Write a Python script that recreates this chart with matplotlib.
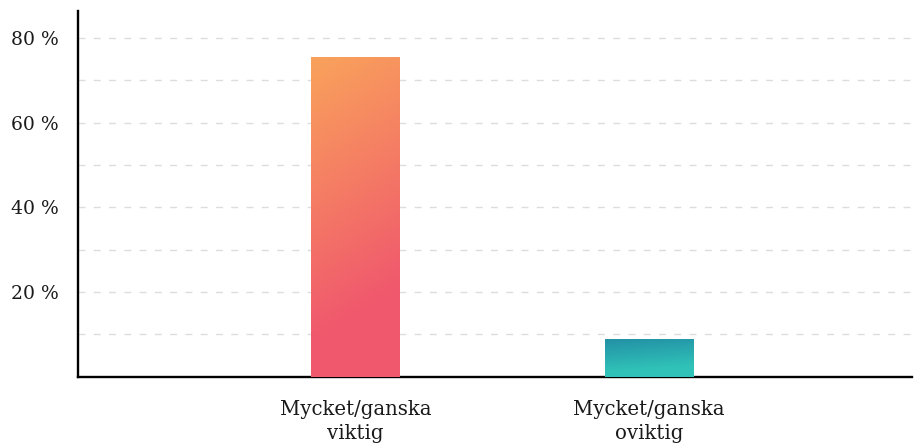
import numpy as np
import matplotlib
matplotlib.use("Agg")
import matplotlib.pyplot as plt
from matplotlib.colors import to_rgb
from matplotlib.ticker import MultipleLocator, FuncFormatter

categories = ["Mycket/ganska\nviktig", "Mycket/ganska\noviktig"]
values = [75.6, 8.9]
yticks = [20, 40, 60, 80]
grad_top = ["#F99F5C", "#2393A6"]
grad_bottom = ["#F0596D", "#30C2B8"]

plt.rcParams['font.family'] = ['DejaVu Serif']

fig = plt.figure(figsize=(9.14, 4.48), dpi=100)
ax = fig.add_axes([78/914, 1 - 376.6/448, (912 - 78)/914, (376.6 - 11)/448])

x = np.arange(len(categories))
width = 0.303
bars = ax.bar(x, values, width, color='none', zorder=3)

for i, b in enumerate(bars):
    ny, nx = 200, 60
    u = np.linspace(0, 1, nx)[None, :]
    v = np.linspace(0, 1, ny)[:, None]  # 0 at top, 1 at bottom
    t = np.clip(1.2 * v + 0.2 * u - 0.05, 0, 1)
    c0 = np.array(to_rgb(grad_top[i]))
    c1 = np.array(to_rgb(grad_bottom[i]))
    img = c0[None, None, :] * (1 - t[..., None]) + c1[None, None, :] * t[..., None]
    im = ax.imshow(img, extent=(b.get_x(), b.get_x() + b.get_width(), 0, b.get_height()),
                   aspect='auto', origin='upper', zorder=3, interpolation='bilinear')
    im.set_clip_path(b)

ax.set_xlim(-0.9455, 1.896)
ax.set_ylim(0, 86.4)

ax.set_yticks(yticks)
ax.yaxis.set_minor_locator(MultipleLocator(10))
ax.yaxis.set_major_formatter(FuncFormatter(lambda v, p: f"{int(v)} %"))
ax.grid(axis='y', which='both', color='#dddddd', linestyle=(0, (5, 6)), linewidth=1.0, zorder=0)
ax.set_axisbelow(True)

ax.set_xticks(x)
ax.set_xticklabels(categories, fontsize=14.2, color='#1a1a1a', linespacing=1.3)
ax.tick_params(axis='x', length=0, pad=17)
ax.tick_params(axis='y', which='both', length=0, pad=14, labelsize=13.5, labelcolor='#1a1a1a')

for s in ['top', 'right']:
    ax.spines[s].set_visible(False)
for s in ['left', 'bottom']:
    ax.spines[s].set_linewidth(1.7)
    ax.spines[s].set_color('#000000')

fig.savefig("out.png", dpi=100)
